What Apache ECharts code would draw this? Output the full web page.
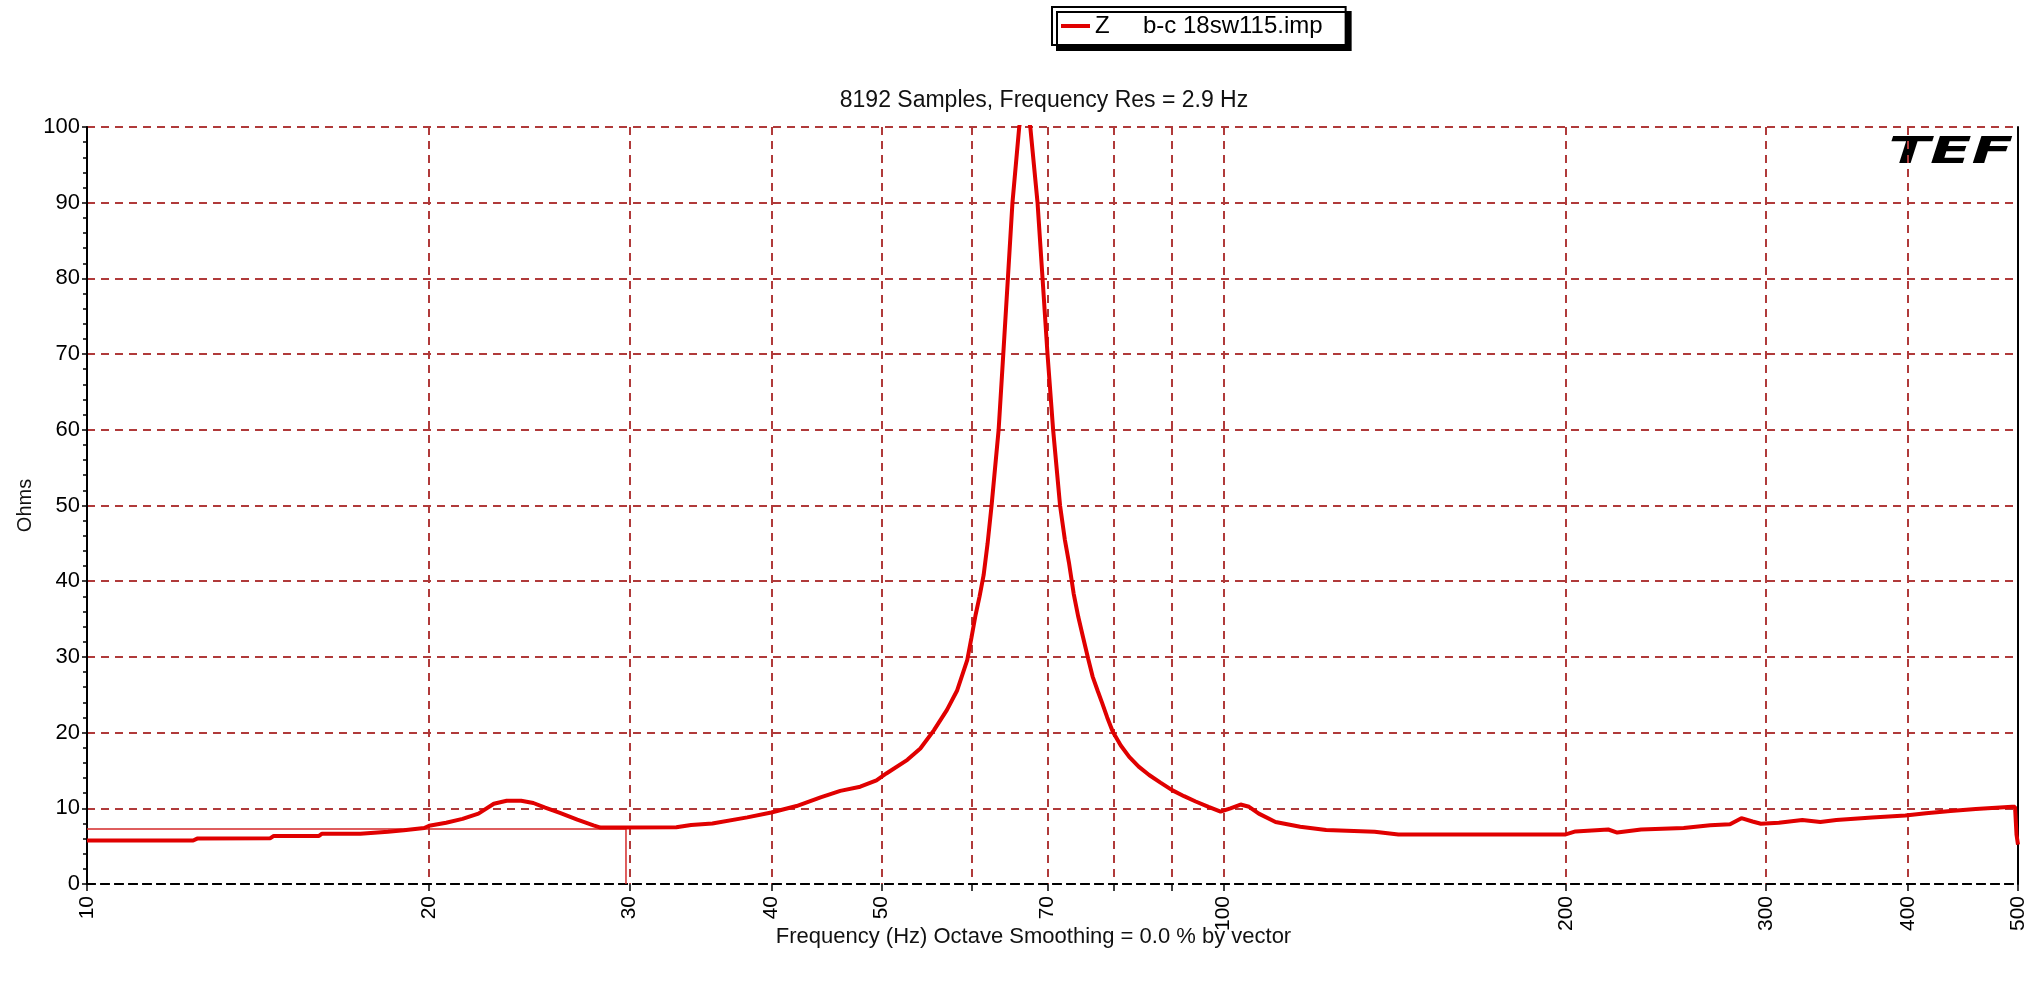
<!DOCTYPE html>
<html>
<head>
<meta charset="utf-8">
<script src="https://cdn.jsdelivr.net/npm/echarts@6/dist/echarts.min.js"></script>
<style>
html,body{margin:0;padding:0;background:#fff;}
#chart{width:2040px;height:987px;}
</style>
</head>
<body>
<div id="chart"></div>
<script>
// ---- data ----
const freqHz = [10, 12.4, 12.5, 14.5, 14.6, 16.0, 16.1, 17.4, 18.4, 19.0, 19.8, 20.0, 20.7, 21.4, 22.1, 22.8, 23.4, 24.1, 24.7, 25.3, 26.1, 27.0, 27.9, 28.3, 30, 33.0, 34.0, 35.5, 38.1, 40, 42.1, 44.2, 46.0, 47.9, 49.5, 50.5, 52.7, 54.1, 55.6, 57.1, 58.3, 59.5, 60.0, 60.5, 61.0, 61.5, 62.0, 62.5, 63.4, 64.0, 64.6, 65.2, 66.1, 66.8, 67.6, 68.6, 69.3, 70.0, 70.8, 71.8, 72.5, 73.1, 73.8, 74.5, 75.2, 76.0, 76.7, 77.5, 78.2, 79.0, 79.9, 81.2, 82.6, 84.2, 86.0, 88.0, 90.1, 92.3, 94.5, 97.0, 99.4, 101.4, 103.5, 105.3, 107.4, 111.1, 116.8, 123.1, 135.8, 142.5, 200, 204, 218, 222, 233, 254, 268, 279, 285.5, 292, 297, 308, 323, 335, 346, 372, 398, 415, 436, 459, 494, 497, 498.5, 500];
const impedanceOhms = [5.75, 5.75, 6.0, 6.05, 6.35, 6.35, 6.65, 6.65, 6.9, 7.1, 7.4, 7.7, 8.1, 8.6, 9.3, 10.6, 11.0, 11.0, 10.7, 10.1, 9.35, 8.5, 7.75, 7.45, 7.45, 7.5, 7.8, 8.0, 8.8, 9.45, 10.3, 11.45, 12.3, 12.85, 13.7, 14.6, 16.4, 17.9, 20.3, 23.0, 25.6, 29.6, 32.5, 35.5, 38.0, 40.8, 45.0, 50, 60, 70, 80, 90, 100, 104, 100, 90, 80, 70, 60, 50, 45.5, 42.5, 38.4, 35.3, 32.7, 29.8, 27.4, 25.5, 23.9, 22.0, 20.1, 18.3, 16.8, 15.5, 14.4, 13.4, 12.4, 11.6, 10.9, 10.2, 9.55, 10.0, 10.5, 10.2, 9.3, 8.2, 7.57, 7.13, 6.9, 6.55, 6.55, 6.95, 7.2, 6.8, 7.2, 7.4, 7.75, 7.9, 8.7, 8.26, 7.96, 8.1, 8.45, 8.2, 8.45, 8.78, 9.04, 9.35, 9.65, 9.9, 10.2, 10.2, 6.5, 5.2];
const cursorFreq = 29.8;
const cursorOhms = 7.27;
const gridFreqs = [10, 20, 30, 40, 50, 60, 70, 80, 90, 100, 200, 300, 400, 500];
const labelFreqs = [10, 20, 30, 40, 50, 70, 100, 200, 300, 400, 500];
const seriesName = 'Z';
const fileName = 'b-c 18sw115.imp';
const chartTitle = '8192 Samples, Frequency Res = 2.9 Hz';
const xTitle = 'Frequency (Hz) Octave Smoothing = 0.0 % by vector';
const yTitle = 'Ohms';

const curve = freqHz.map((f, i) => [f, impedanceOhms[i]]);
const cursor = [[10, cursorOhms], [cursorFreq, cursorOhms], [cursorFreq, 0]];

const FONT = 'Liberation Sans, Arial, sans-serif';
const gridColor = '#b03a3a';

const chart = echarts.init(document.getElementById('chart'), null, {renderer: 'canvas'});
chart.setOption({
  animation: false,
  backgroundColor: '#ffffff',
  title: {
    text: chartTitle,
    left: 1039,
    top: 84,
    textAlign: 'center',
    textStyle: {fontFamily: FONT, fontSize: 23, fontWeight: 'normal', color: '#111'}
  },
  legend: {
    data: [seriesName],
    left: 1052,
    top: 7,
    padding: [7, 23, 7, 9],
    backgroundColor: '#fff',
    borderColor: '#000',
    borderWidth: 2,
    borderRadius: 0,
    shadowColor: '#000',
    shadowOffsetX: 5,
    shadowOffsetY: 5,
    shadowBlur: 0,
    icon: 'rect',
    itemWidth: 29,
    itemHeight: 4,
    formatter: (n) => n + '     ' + fileName,
    textStyle: {fontFamily: FONT, fontSize: 24, color: '#000'}
  },
  grid: {left: 87, right: 22, top: 127, bottom: 103, containLabel: false},
  xAxis: [{
    type: 'log',
    logBase: 10,
    min: 10,
    max: 500,
    name: xTitle,
    nameLocation: 'middle',
    nameGap: 42,
    nameMoveOverlap: false,
    nameTextStyle: {fontFamily: FONT, fontSize: 22, color: '#111', padding: [0, 38, 0, 0]},
    axisLine: {show: true, lineStyle: {color: '#000', width: 2, type: [8, 6]}},
    axisTick: {show: true, inside: false, length: 7, customValues: gridFreqs, lineStyle: {color: '#000', width: 1.5}},
    axisLabel: {show: true, customValues: labelFreqs, rotate: 90, margin: 12, fontFamily: FONT, fontSize: 21, color: '#000'},
    splitLine: {show: true, lineStyle: {color: gridColor, width: 2, type: [8, 6]}}
  }, {
    type: 'log',
    logBase: 10,
    min: 10,
    max: 500,
    position: 'top',
    axisLine: {show: true, lineStyle: {color: '#000', width: 2, type: [8, 6]}},
    axisTick: {show: false},
    axisLabel: {show: false},
    splitLine: {show: false}
  }],
  yAxis: [{
    type: 'value',
    min: 0,
    max: 100,
    interval: 10,
    name: yTitle,
    nameLocation: 'middle',
    nameRotate: 90,
    nameGap: 52,
    nameMoveOverlap: false,
    nameTextStyle: {fontFamily: FONT, fontSize: 20, color: '#111'},
    axisLine: {show: true, lineStyle: {color: '#000', width: 2}},
    axisTick: {show: true, length: 5, lineStyle: {color: '#000', width: 1.5}},
    minorTick: {show: true, splitNumber: 5, length: 4, lineStyle: {color: '#000', width: 1.5}},
    axisLabel: {margin: 7, fontFamily: FONT, fontSize: 22, color: '#000'},
    splitLine: {show: true, lineStyle: {color: gridColor, width: 2, type: [8, 6]}}
  }, {
    type: 'value',
    min: 0,
    max: 100,
    position: 'right',
    axisLine: {show: true, lineStyle: {color: '#000', width: 2}},
    axisTick: {show: false},
    axisLabel: {show: false},
    splitLine: {show: false}
  }],
  graphic: [{
    type: 'text',
    right: 27,
    top: 134,
    scaleX: 1.6,
    style: {text: 'TEF', fontFamily: 'DejaVu Sans', fontWeight: 900, fontStyle: 'italic', fontSize: 38, fill: '#000'}
  }],
  series: [{
    name: 'cursor',
    type: 'line',
    data: cursor,
    showSymbol: false,
    symbol: 'none',
    silent: true,
    lineStyle: {color: '#d42a2a', width: 1.5},
    z: 2
  }, {
    name: seriesName,
    type: 'line',
    data: curve,
    showSymbol: false,
    symbol: 'none',
    itemStyle: {color: '#e00000'},
    lineStyle: {color: '#e00000', width: 4},
    clip: true,
    z: 3
  }]
});
</script>
</body>
</html>
